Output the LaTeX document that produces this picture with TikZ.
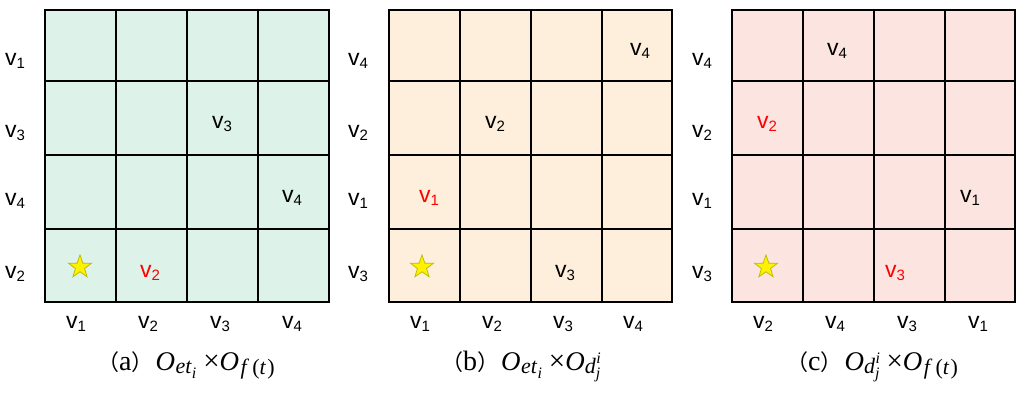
\documentclass[tikz,border=0pt]{standalone}
\usepackage{fontspec}
\setmainfont{Liberation Serif}
\newfontfamily\arialf{Liberation Sans}
\newfontfamily\cjk{Noto Sans CJK SC}
\usetikzlibrary{shapes.geometric}
\definecolor{gA}{RGB}{221,242,232}
\definecolor{gB}{RGB}{253,239,220}
\definecolor{gC}{RGB}{252,229,225}
\definecolor{starline}{RGB}{190,190,0}
\newcommand{\vv}[1]{v\raisebox{-3.5pt}{\fontsize{15}{15}\selectfont #1}}
\newcommand{\subfont}{\fontsize{22}{22}\selectfont}
\newcommand{\ssfont}{\fontsize{16}{16}\selectfont}
\newcommand{\Oet}{\textit{O}\raisebox{-3pt}{\subfont\hspace{0.5pt}\textit{et}}\raisebox{-8pt}{\ssfont\textit{i}}}
\newcommand{\Of}{\textit{O}\raisebox{-4pt}{\subfont\hspace{1.5pt}\textit{f}\hspace{3pt}(\textit{t}\hspace{1pt})}}
\newcommand{\Od}{\textit{O}\raisebox{-3pt}{\subfont\textit{d}}\rlap{\raisebox{7pt}{\ssfont\hspace{0.5pt}\textit{i}}}\raisebox{-8pt}{\ssfont\textit{j}}}
\newcommand{\cpar}[1]{{\cjk\fontsize{22}{22}\selectfont （}{\fontsize{28}{28}\selectfont #1}{\cjk\fontsize{22}{22}\selectfont ）}}
\newcommand{\tms}{\hspace{7pt}{\fontsize{29}{29}\selectfont ×}\hspace{0pt}}
\begin{document}
\begin{tikzpicture}[x=1pt,y=-1pt,
  lbl/.style={font=\arialf\fontsize{23}{23}\selectfont, inner sep=0pt, anchor=base},
  red lbl/.style={lbl, text=red},
  gridline/.style={line width=2pt, black},
  starmark/.style={star, star points=5, star point ratio=2.5, minimum size=24pt, inner sep=0pt, fill=yellow, draw=starline, line width=0.8pt},
  captxt/.style={font=\fontsize{27}{27}\selectfont, inner sep=0pt, anchor=base west}]
\useasboundingbox (0,0) rectangle (1027,400);

% ---------- panel (a)
\fill[gA] (45,10) rectangle (329,302);
\foreach \x in {116,187,258} \draw[gridline] (\x,10) -- (\x,302);
\foreach \y in {81,155,229} \draw[gridline] (45,\y) -- (329,\y);
\draw[gridline] (45,10) rectangle (329,302);
\node[lbl] (aR1) at (15,65) {\vv{1}};
\node[lbl] (aR2) at (15,137) {\vv{3}};
\node[lbl] (aR3) at (15,205) {\vv{4}};
\node[lbl] (aR4) at (15,278) {\vv{2}};
\node[lbl] (aC1) at (76,328) {\vv{1}};
\node[lbl] (aC2) at (148,328) {\vv{2}};
\node[lbl] (aC3) at (220,328) {\vv{3}};
\node[lbl] (aC4) at (292,328) {\vv{4}};
\node[lbl] (aX23) at (222,128) {\vv{3}};
\node[lbl] (aX34) at (292,202) {\vv{4}};
\node[red lbl] (aX42) at (150,277) {\vv{2}};
\node[starmark] (aS) at (80,267) {};
\node[captxt] (aCap) at (97,370) {\cpar{a}\hspace{2pt}\Oet\tms\Of};

% ---------- panel (b)
\fill[gB] (389,10) rectangle (672,302);
\foreach \x in {460,531,602} \draw[gridline] (\x,10) -- (\x,302);
\foreach \y in {81,155,229} \draw[gridline] (389,\y) -- (672,\y);
\draw[gridline] (389,10) rectangle (672,302);
\node[lbl] (bR1) at (358,65) {\vv{4}};
\node[lbl] (bR2) at (358,137) {\vv{2}};
\node[lbl] (bR3) at (358,205) {\vv{1}};
\node[lbl] (bR4) at (358,278) {\vv{3}};
\node[lbl] (bC1) at (420,328) {\vv{1}};
\node[lbl] (bC2) at (492,328) {\vv{2}};
\node[lbl] (bC3) at (563,328) {\vv{3}};
\node[lbl] (bC4) at (633,328) {\vv{4}};
\node[lbl] (bX14) at (640,55) {\vv{4}};
\node[lbl] (bX22) at (495,128) {\vv{2}};
\node[red lbl] (bX31) at (429,202) {\vv{1}};
\node[lbl] (bX43) at (565,277) {\vv{3}};
\node[starmark] (bS) at (422,267) {};
\node[captxt] (bCap) at (441,370) {\cpar{b}\hspace{2pt}\Oet\tms\Od};

% ---------- panel (c)
\fill[gC] (732,10) rectangle (1015,302);
\foreach \x in {803,874,945} \draw[gridline] (\x,10) -- (\x,302);
\foreach \y in {81,155,229} \draw[gridline] (732,\y) -- (1015,\y);
\draw[gridline] (732,10) rectangle (1015,302);
\node[lbl] (cR1) at (702,65) {\vv{4}};
\node[lbl] (cR2) at (702,137) {\vv{2}};
\node[lbl] (cR3) at (702,205) {\vv{1}};
\node[lbl] (cR4) at (702,278) {\vv{3}};
\node[lbl] (cC1) at (763,328) {\vv{2}};
\node[lbl] (cC2) at (835,328) {\vv{4}};
\node[lbl] (cC3) at (907,328) {\vv{3}};
\node[lbl] (cC4) at (978,328) {\vv{1}};
\node[lbl] (cX12) at (837,55) {\vv{4}};
\node[red lbl] (cX21) at (767,128) {\vv{2}};
\node[lbl] (cX34) at (970,202) {\vv{1}};
\node[red lbl] (cX43) at (895,277) {\vv{3}};
\node[starmark] (cS) at (766,267) {};
\node[captxt] (cCap) at (786,370) {\cpar{c}\hspace{2pt}\Od\tms\Of};
\end{tikzpicture}
\end{document}
